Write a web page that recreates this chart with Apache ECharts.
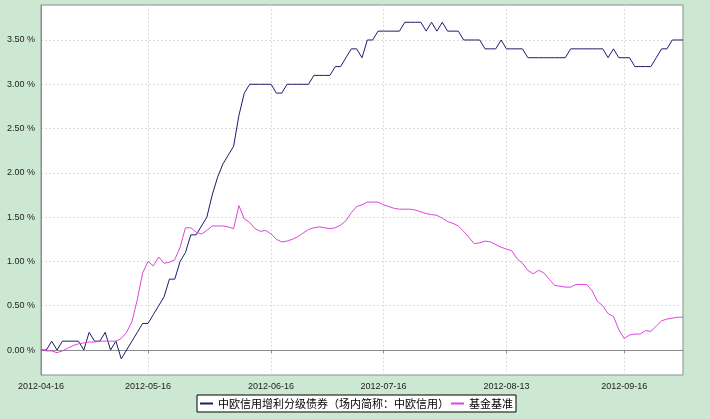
<!DOCTYPE html>
<html><head><meta charset="utf-8">
<script src="https://cdn.jsdelivr.net/npm/echarts@6/dist/echarts.min.js"></script>
<style>html,body{margin:0;padding:0;background:#cde8d2;}#c{width:710px;height:419px;}</style>
</head><body><div id="c"></div>
<script>
const fundName = '中欧信用增利分级债券（场内简称：中欧信用）';
const benchName = '基金基准';
const tickLabels = ['2012-04-16','2012-05-16','2012-06-16','2012-07-16','2012-08-13','2012-09-16'];
const tickIndex = [0, 20, 43, 64, 87, 109];
const yTicks = [0, 0.5, 1, 1.5, 2, 2.5, 3, 3.5];
const fundValues = [
  0,0,0.1,0,0.1,0.1,0.1,0.1,0,0.2,
  0.1,0.1,0.2,0,0.1,-0.1,0,0.1,0.2,0.3,
  0.3,0.4,0.5,0.6,0.8,0.8,1.0,1.1,1.3,1.3,
  1.4,1.5,1.75,1.95,2.1,2.2,2.3,2.65,2.9,3.0,
  3.0,3.0,3.0,3.0,2.9,2.9,3.0,3.0,3.0,3.0,
  3.0,3.1,3.1,3.1,3.1,3.2,3.2,3.3,3.4,3.4,
  3.3,3.5,3.5,3.6,3.6,3.6,3.6,3.6,3.7,3.7,
  3.7,3.7,3.6,3.7,3.6,3.7,3.6,3.6,3.6,3.5,
  3.5,3.5,3.5,3.4,3.4,3.4,3.5,3.4,3.4,3.4,
  3.4,3.3,3.3,3.3,3.3,3.3,3.3,3.3,3.3,3.4,
  3.4,3.4,3.4,3.4,3.4,3.4,3.3,3.4,3.3,3.3,
  3.3,3.2,3.2,3.2,3.2,3.3,3.4,3.4,3.5,3.5,
  3.5
];
const benchValues = [
  0,-0.01,-0.01,-0.03,-0.01,0.02,0.05,0.07,0.08,0.09,
  0.09,0.1,0.1,0.1,0.1,0.13,0.2,0.32,0.57,0.87,
  1.0,0.95,1.05,0.98,0.99,1.02,1.16,1.38,1.38,1.33,
  1.31,1.35,1.4,1.4,1.4,1.39,1.37,1.63,1.48,1.44,
  1.37,1.34,1.35,1.31,1.25,1.22,1.23,1.25,1.28,1.32,
  1.36,1.38,1.39,1.38,1.37,1.38,1.41,1.46,1.55,1.62,
  1.64,1.67,1.67,1.67,1.64,1.62,1.6,1.59,1.59,1.59,
  1.58,1.56,1.54,1.53,1.52,1.49,1.45,1.43,1.4,1.34,
  1.27,1.2,1.21,1.23,1.22,1.19,1.16,1.14,1.12,1.03,
  0.98,0.9,0.86,0.9,0.87,0.8,0.73,0.72,0.71,0.71,
  0.74,0.74,0.74,0.67,0.55,0.5,0.41,0.38,0.23,0.13,
  0.17,0.18,0.18,0.22,0.21,0.27,0.33,0.35,0.36,0.37,
  0.37
];
const categories = fundValues.map((v, i) => String(i));
const isTick = (i) => tickIndex.indexOf(i) >= 0;

const chart = echarts.init(document.getElementById('c'), null, {renderer: 'canvas'});
chart.setOption({
  animation: false,
  backgroundColor: '#cde8d2',
  grid: {left: 41, right: 27, top: 5, bottom: 44, show: true, backgroundColor: '#ffffff', borderColor: '#8c8c8c', borderWidth: 1},
  legend: {
    left: 197, top: 395, padding: [3, 3, 3, 3], itemGap: 2,
    backgroundColor: '#ffffff', borderColor: '#000000', borderWidth: 1,
    icon: 'rect', itemWidth: 13, itemHeight: 2,
    textStyle: {fontFamily: 'Noto Sans CJK SC', fontSize: 11, color: '#000'},
    data: [fundName, benchName]
  },
  xAxis: {
    type: 'category', data: categories, boundaryGap: false,
    axisLine: {lineStyle: {color: '#8c8c8c'}},
    axisTick: {show: true, length: 3, interval: (i) => isTick(i), lineStyle: {color: '#8c8c8c'}},
    axisLabel: {interval: (i) => isTick(i), formatter: (v, i) => tickLabels[tickIndex.indexOf(i)] || '',
      fontFamily: 'Liberation Sans', fontSize: 9, color: '#222', margin: 7},
    splitLine: {show: true, interval: (i) => isTick(i), lineStyle: {color: '#dddddd', type: [2, 2]}}
  },
  yAxis: {
    type: 'value', min: -0.282, max: 3.895,
    axisLine: {show: true, lineStyle: {color: '#8c8c8c'}},
    axisTick: {show: false, customValues: yTicks},
    axisLabel: {customValues: yTicks, formatter: (v) => v.toFixed(2) + ' %',
      fontFamily: 'Liberation Sans', fontSize: 9, color: '#222', margin: 6},
    splitLine: {show: true, lineStyle: {color: '#dddddd', type: [2, 2]}}
  },
  series: [
    {name: fundName, type: 'line', data: fundValues, showSymbol: false, symbol: 'none',
      lineStyle: {color: '#1c1c6e', width: 1}, itemStyle: {color: '#1c1c6e'}},
    {name: benchName, type: 'line', data: benchValues, showSymbol: false, symbol: 'none',
      lineStyle: {color: '#de44de', width: 1}, itemStyle: {color: '#de44de'}}
  ]
});
</script>
</body></html>
